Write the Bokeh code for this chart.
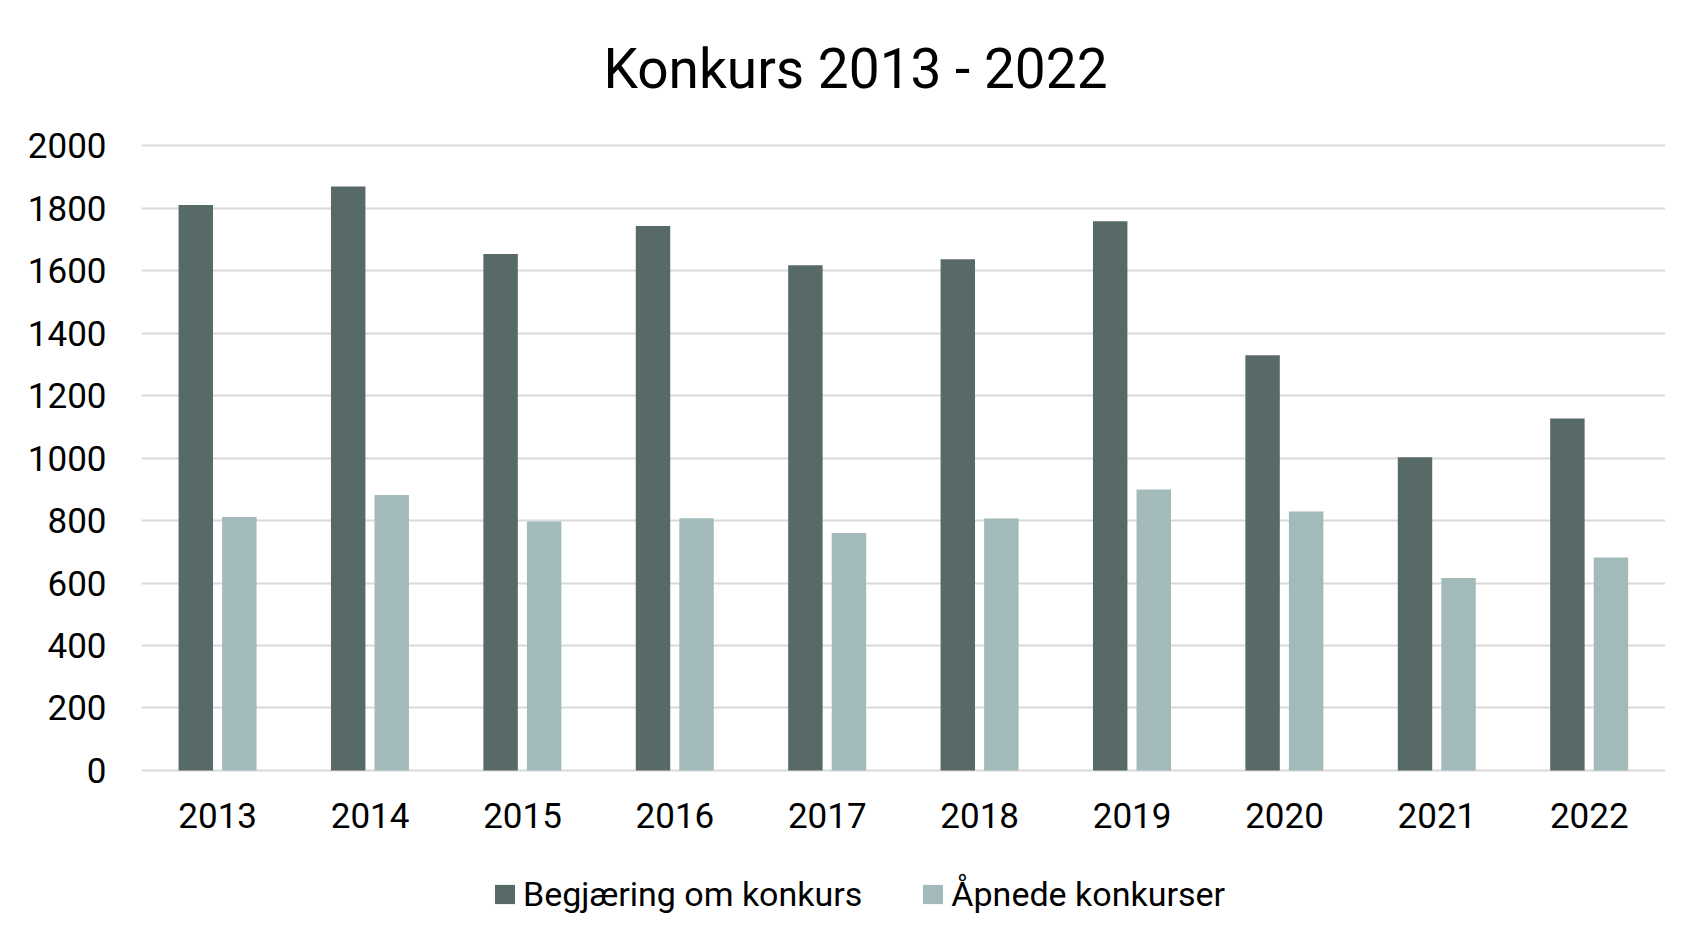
from bokeh.plotting import figure
from bokeh.layouts import column
from bokeh.models import (FactorRange, Range1d, Legend, LegendItem, Label,
                          FixedTicker, ColumnDataSource)
from bokeh.transform import dodge
from bokeh.embed import file_html
from bokeh.resources import INLINE

# ---- data ----
years = ["2013", "2014", "2015", "2016", "2017", "2018", "2019", "2020", "2021", "2022"]
begjaering = [1811, 1870, 1654, 1744, 1618, 1637, 1759, 1330, 1003, 1127]
apnede = [812, 882, 797, 808, 760, 807, 900, 829, 616, 682]
y_ticks = [0, 200, 400, 600, 800, 1000, 1200, 1400, 1600, 1800, 2000]
series_names = ["Begjæring om konkurs", "Åpnede konkurser"]
title_text = "Konkurs 2013 - 2022"

# ---- style ----
DARK = "#586a67"
LIGHT = "#a2baba"
GRID = "#d9d9d9"
FONT = "Roboto"

src = ColumnDataSource(dict(year=years, begj=begjaering, apn=apnede))

# main chart: frame spans from near the top (room for the title) to the zero line
p = figure(x_range=FactorRange(*years, range_padding=0),
           y_range=Range1d(-10, 2434),
           width=1687, height=850,
           output_backend="svg", toolbar_location=None,
           min_border_left=141, min_border_right=22,
           min_border_top=10, min_border_bottom=77)

p.outline_line_color = None
p.background_fill_color = "white"
p.border_fill_color = "white"

r1 = p.vbar(x=dodge("year", -0.1437, range=p.x_range), top="begj", bottom=0,
            width=0.226, source=src, fill_color=DARK, line_color=None)
r2 = p.vbar(x=dodge("year", 0.142, range=p.x_range), top="apn", bottom=0,
            width=0.226, source=src, fill_color=LIGHT, line_color=None)

p.xgrid.grid_line_color = None
p.ygrid.grid_line_color = GRID
p.ygrid.grid_line_width = 2
p.yaxis.ticker = FixedTicker(ticks=y_ticks)

for ax in (p.xaxis[0], p.yaxis[0]):
    ax.axis_line_color = None
    ax.major_tick_line_color = None
    ax.minor_tick_line_color = None
    ax.major_tick_out = 0
    ax.major_tick_in = 0
    ax.minor_tick_out = 0
    ax.major_label_text_font = FONT
    ax.major_label_text_font_size = "35px"
    ax.major_label_text_color = "#000000"

p.xaxis.major_label_standoff = 29
p.yaxis.major_label_standoff = 35

title = Label(x=714, y=705, x_units="screen", y_units="screen",
              text=title_text, text_align="center", text_baseline="alphabetic",
              text_font=FONT, text_font_size="55px", text_color="#000000")
p.add_layout(title)

# legend strip below the chart (its frame is aligned with the chart's frame)
q = figure(x_range=Range1d(0, 1), y_range=Range1d(0, 1),
           width=1687, height=90,
           output_backend="svg", toolbar_location=None,
           x_axis_location=None, y_axis_location=None,
           min_border_left=0, min_border_right=0,
           min_border_top=0, min_border_bottom=0)
q.outline_line_color = None
q.xgrid.grid_line_color = None
q.ygrid.grid_line_color = None
q.background_fill_color = "white"
q.border_fill_color = "white"

# off-screen stand-ins that only supply the legend swatches
lr1 = q.vbar(x=[-5], top=[-5], bottom=[-6], width=0.1, fill_color=DARK, line_color=None)
lr2 = q.vbar(x=[-5], top=[-5], bottom=[-6], width=0.1, fill_color=LIGHT, line_color=None)

legend = Legend(items=[LegendItem(label=series_names[0], renderers=[lr1]),
                       LegendItem(label=series_names[1], renderers=[lr2])],
                orientation="horizontal", location=(351, 26),
                glyph_width=25, glyph_height=24, label_standoff=6, spacing=58,
                padding=0, margin=0, border_line_color=None,
                background_fill_alpha=0,
                label_text_font=FONT, label_text_font_size="34px",
                label_text_color="#000000")
q.add_layout(legend, "center")

layout = column(p, q, spacing=0)
open("out.html", "w").write(file_html(layout, INLINE))
